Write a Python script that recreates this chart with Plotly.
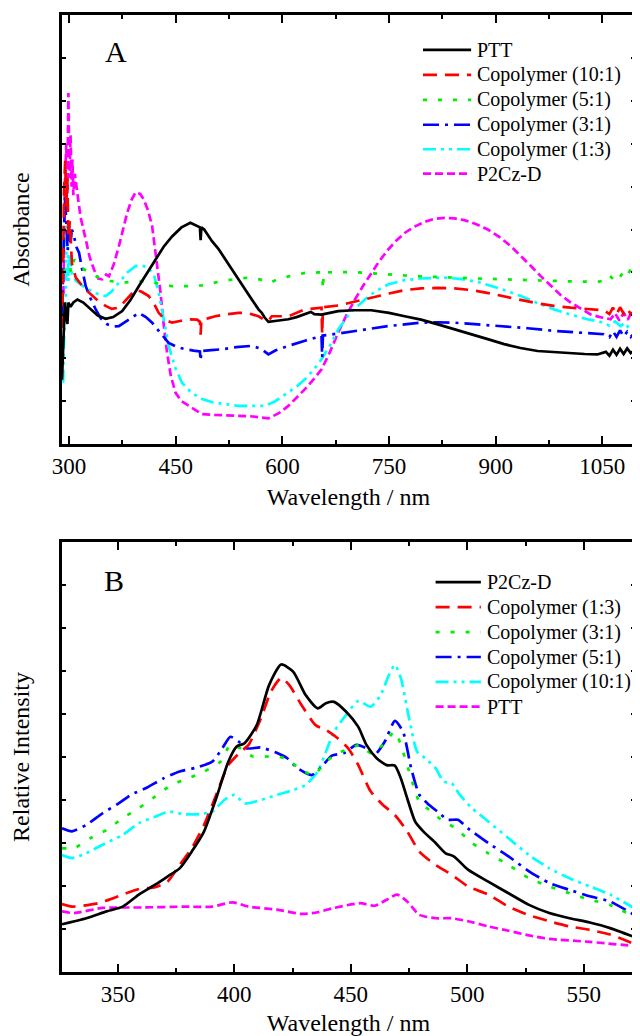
import plotly.graph_objects as go

FONT = "Liberation Serif"

# ---------------- Panel A : absorbance (arbitrary units, 0-100) ----------------
a_ptt_wl = [290, 292, 294, 296, 297.6, 299, 302, 306, 311.7, 320, 328, 340, 351.4, 362, 374.7, 386, 398, 410,
            421.5, 433, 444.8, 458, 470.6, 478, 484, 485, 486, 490, 501, 510, 519.7, 530, 538.3, 548, 557, 566.4,
            571, 575, 580.4, 595, 608.4, 620, 631.8, 640, 645, 655, 678.5, 700, 725, 750, 772, 795, 818.7, 842,
            865.4, 890, 912, 935, 959, 982, 1005.6, 1025, 1043, 1055, 1060, 1065, 1070, 1075, 1080, 1085, 1090, 1096]
a_ptt_abs = [15, 25, 33, 30, 28, 33, 32, 33, 33.7, 33, 31.8, 30, 29.2, 29.6, 31, 33.5, 36.8, 40,
             43, 46, 48.4, 50.5, 51.6, 51, 50.5, 47.5, 50.5, 50, 47.3, 45.5, 43, 40.5, 38.4, 36, 33.7, 31.4,
             30.6, 29.5, 28.5, 28.8, 29.1, 29.6, 30.2, 30.8, 30.3, 30.2, 31, 31.2, 31.2, 30.6, 29.8, 29, 27.9, 26.8,
             25.6, 24.4, 23.3, 22.4, 21.7, 21.4, 21.2, 21, 20.9, 21.5, 20.6, 22, 20.8, 22.2, 21, 22.3, 21.2, 22]

a_c101_wl = [290, 291.5, 293, 294.5, 296, 297.5, 299, 301, 304, 309.4, 318, 328, 340, 351.4, 360, 370, 382, 393.5,
             402, 412, 420, 426, 435, 444.8, 456, 468, 480, 484, 485, 486, 495, 505.6, 520, 538.3, 552, 566.4, 575,
             580.4, 585, 608.4, 631.8, 650, 655, 656, 657, 678.5, 700, 725, 750, 772, 795, 818.7, 842, 865.4, 890,
             912, 935, 959, 982, 1005.6, 1030, 1052, 1060, 1065, 1070, 1075, 1080, 1085, 1090, 1096]
a_c101_abs = [22, 45, 60, 66, 55, 62, 48, 52, 42, 38.8, 37, 35.3, 33.5, 32.2, 31.5, 31.8, 34, 36,
              35.5, 34.5, 32.5, 30.6, 29, 28.3, 28.7, 29.1, 29, 28.5, 25.5, 29, 29.3, 29.8, 30.2, 30.6, 30.5, 29.8, 28.9,
              28.7, 29.8, 29.8, 31.4, 31.8, 31.8, 25.6, 31.9, 32.3, 33.2, 34.1, 35.1, 35.9, 36.3, 36.4, 36.3, 35.9, 35.2,
              34.5, 33.6, 32.8, 32.2, 31.8, 31.5, 31.2, 30.3, 31.8, 30.2, 31.9, 30.4, 31.6, 30.3, 31]

a_c51_wl = [291, 295, 300, 303, 307, 312, 318.6, 330, 342, 358, 374.7, 386, 398, 410, 421.5, 433, 444.8, 465, 487,
            500, 515, 535, 552, 568, 582.8, 595, 610, 631.8, 650, 656, 657, 658, 680, 702, 725, 748.6, 772, 795, 818,
            842, 875, 912, 945, 982, 1010, 1043, 1055, 1060, 1065, 1070, 1075, 1080, 1085, 1090, 1096]
a_c51_abs = [40, 41, 42, 40, 43, 42, 41, 39.8, 38.8, 38, 37.6, 37.8, 38, 37.9, 37.6, 37.2, 36.8, 36.8, 37,
             37.5, 38, 38.5, 38.8, 38.4, 37.6, 38.6, 39.2, 39.9, 40, 40, 36, 40, 40.1, 40.1, 39.8, 39.5, 39.3, 39.1, 39,
             38.8, 38.6, 38.4, 38.2, 38, 37.9, 37.8, 38.2, 39.3, 38.5, 39.7, 39, 40.2, 39.2, 40.8, 39.8]

a_c31_wl = [290, 292, 294, 296, 298, 300, 302, 304, 307, 310, 314, 318, 323.4, 330, 337.4, 345, 353.7, 362, 370, 384,
            398, 408, 416.8, 428, 440, 452, 463.6, 475, 484, 485, 486, 500, 515, 535, 557, 570, 577, 580.4, 590, 608.4,
            631.8, 650, 655, 656, 657, 680, 702, 725, 748.6, 772, 795, 818, 842, 875, 912, 945, 982, 1015, 1052,
            1060, 1065, 1070, 1075, 1080, 1085, 1090, 1096]
a_c31_abs = [30, 48, 58, 52, 45, 50.8, 47, 50, 48.4, 46, 44.6, 41, 36.8, 34, 31.4, 29.2, 27.9, 27.4, 27.5, 29,
             30.6, 29.6, 28.3, 26, 23.6, 22.6, 22.1, 21.8, 21.6, 19.5, 21.7, 21.9, 22.1, 22.6, 22.9, 22.2, 21.2, 20.9, 21.8, 22.9,
             24.1, 25, 25.2, 20.2, 25.3, 25.8, 26.4, 27, 27.5, 27.9, 28.3, 28.4, 28.3, 27.9, 27.5, 27, 26.4, 26, 25.6,
             24.9, 26.3, 25, 26.5, 25.1, 26.2, 25, 26]

a_c13_wl = [291.6, 293, 295, 297, 299, 301, 304.6, 310, 318, 328, 340, 351.4, 360, 370, 382, 393.5, 402, 412, 420,
            426, 433, 440, 450, 458.9, 472, 487, 503, 519.7, 538.3, 557, 575.8, 590, 608.4, 620, 631.8, 645, 655, 667,
            678.5, 695, 716, 730, 748.6, 772, 795, 828, 850, 875, 905, 935.5, 960, 982, 1005, 1029, 1050, 1060, 1068,
            1075.7, 1082, 1088, 1096]
a_c13_abs = [14.3, 25, 31.4, 52, 38, 44, 39.1, 38, 37, 36, 35, 34.5, 35.6, 37.6, 40, 41.5, 41.6, 41.1, 39,
             35.3, 29, 22.9, 17.5, 14.3, 12, 10.5, 9.7, 9.3, 8.9, 8.9, 8.9, 10, 12, 13.4, 15.1, 17.5, 19.8, 23,
             26.7, 30.5, 33.7, 35.5, 37.2, 38.2, 38.6, 38.8, 38.5, 37.8, 36.3, 34.5, 32.8, 31.4, 30.2, 29.1, 28.4, 27.6, 28.6,
             27.5, 28.3, 26.8, 27.5]

a_p2cz_wl = [292, 294, 296, 297.5, 299, 300.5, 302, 303.5, 304.6, 306, 308, 311.7, 316, 323.4, 329, 335, 341, 346.7,
             352, 356, 363, 370, 376, 381.7, 388, 393.5, 400, 405, 411, 416.8, 422, 428.6, 433, 437.8, 443, 449.6, 458,
             468.2, 478, 487, 505, 529, 555, 580.4, 595, 608.4, 620, 631.8, 645, 655, 667, 678.5, 690, 702, 714, 725,
             737, 748.6, 760, 772, 786, 800, 814, 828, 842, 856, 872, 889, 905, 921.5, 935, 949.6, 963, 977.6, 991,
             1005.6, 1020, 1033.6, 1047, 1061.7, 1068, 1074, 1080, 1086, 1091, 1096]
a_p2cz_abs = [35, 60, 70, 58, 81.8, 62, 72, 60, 66.3, 58, 63, 58.5, 53, 47.7, 43.5, 40.7, 38.6, 38.4,
              39.5, 39.1, 42, 46.1, 50, 53.9, 57, 58.7, 58.3, 57, 54.5, 50.8, 44, 35.3, 28, 21.3, 16, 12, 10,
              8.9, 7.8, 7, 6.8, 6.7, 6.5, 6.0, 7.2, 8.9, 10.8, 12.8, 15.3, 17.4, 21.5, 26, 30, 33.7, 37, 39.9,
              42.8, 45.3, 47.4, 49.2, 50.7, 51.8, 52.5, 52.7, 52.6, 52.2, 51.3, 50, 48.3, 46.1, 44, 41.5, 39.2, 36.8, 34.8,
              33, 31.5, 30.2, 29.6, 29.1, 30.5, 28.8, 30.6, 29, 30.8, 29.5]

# ---------------- Panel B : photoluminescence (relative intensity, 0-100) ----------------
b_p2cz_wl = [326, 336.4, 345.1, 352.1, 359, 366, 371.3, 376.5, 381.7, 387, 392.2, 397.4, 400.9, 404.4, 409.6, 414.9,
             420.1, 425.3, 430.6, 435.8, 439.3, 442.8, 448, 453.2, 456.7, 461.1, 465.4, 468.9, 471.5, 474.2, 477.6,
             481.1, 486.4, 490.7, 494.2, 500.3, 509, 517.7, 526.5, 535.2, 543.9, 552.6, 561.3, 572.8]
b_p2cz_int = [11.1, 12.5, 14.1, 15.2, 18, 20.3, 22.2, 24.1, 28, 32.7, 40.4, 48.9, 52.4, 53.2, 57.4, 66.7,
              71.5, 69.8, 64.4, 61.3, 62.5, 62.8, 60.5, 57, 52.8, 49.7, 48.1, 48, 45, 40.4, 35,
              32.7, 30, 27.6, 26.9, 23.8, 21, 18.3, 15.6, 13.7, 12.5, 11.5, 10.2, 7.9]

b_c13_wl = [326, 330.3, 341.6, 352.1, 359, 366, 371.3, 376.5, 381.7, 387, 392.2, 397.4, 402.7, 406.1, 411.4, 415.7,
            420.1, 423.6, 428.8, 434.9, 439.3, 444.5, 448.9, 453.2, 458.5, 463.7, 468.9, 474.2, 479.4, 486.4, 493.3,
            500.3, 509, 517.7, 526.5, 535.2, 543.9, 552.6, 561.3, 572.8]
b_c13_int = [15.8, 15.2, 16, 18, 19.3, 19.7, 21, 24.9, 28.8, 34.2, 41.2, 48.1, 51.2, 52.8, 59, 65.2,
             68.4, 66.7, 62.1, 57.4, 56.3, 54.3, 52, 48.1, 42, 38.9, 36.5, 32.7, 28, 24.9, 22.6,
             19.9, 18, 15.2, 13.2, 11.8, 10.6, 9.8, 8.7, 6.3]

b_c31_wl = [326, 331.2, 338.1, 345.1, 352.1, 359, 366, 373, 380, 387, 394, 398.3, 402.7, 407.9, 414.9, 421.8, 428.8,
            434, 439.3, 444.5, 449.7, 454.1, 458.5, 463.7, 468.9, 472.4, 475.9, 479.4, 484.6, 489.8, 495.1, 502,
            509, 517.7, 526.5, 535.2, 543.9, 552.6, 561.3, 572.8]
b_c31_int = [28.8, 28.8, 31.1, 33, 35.8, 38.1, 40.8, 43.5, 45, 46.6, 48.9, 52.8, 52, 50.1, 50.1, 49.7, 47,
             45.8, 48.9, 50.9, 52, 52.8, 50.9, 52.8, 55.9, 51.2, 45, 39.6, 37.3, 35, 33.4, 30,
             27.6, 24.9, 21.8, 19.9, 18.3, 16.8, 15.6, 12.5]

b_c51_wl = [326, 330.3, 336.4, 343.4, 350.3, 355.6, 362.6, 369.5, 376.5, 383.5, 390.5, 394.8, 398.3, 401.8, 405.3,
            411.4, 418.4, 422.7, 427.1, 433.2, 437.5, 441.9, 447.1, 452.4, 456.7, 460.2, 464.6, 468.9, 472.4, 475.9,
            479.4, 482.9, 487.2, 491.6, 496, 500.3, 509, 517.7, 526.5, 535.2, 543.9, 552.6, 561.3, 572.8]
b_c51_int = [33.4, 32.7, 34.2, 36.9, 39.2, 41.2, 42.9, 45, 46.6, 47.5, 48.9, 52, 54.7, 53.6, 52,
             52.2, 50.9, 49.7, 47.4, 45.8, 47.8, 50.3, 50.9, 52.8, 52, 50.5, 53.6, 58.4, 55.9, 47.4,
             41.2, 39.2, 37.3, 35.4, 35.4, 33.4, 30, 26.9, 23.4, 20.7, 19.1, 17.6, 16.4, 12.9]

b_c101_wl = [326, 330.3, 336.4, 343.4, 352.1, 359, 366, 372.1, 378.2, 385.2, 390.5, 395.7, 400, 404.4, 411.4, 418.4,
             425.3, 430.6, 435.8, 439.3, 442.8, 448, 453.2, 458.5, 462.8, 466.3, 468.9, 471.5, 475, 478.5, 482,
             486.4, 489.8, 493.3, 496.8, 502, 509, 517.7, 526.5, 535.2, 543.9, 552.6, 561.3, 572.8]
b_c101_int = [27.2, 26.5, 27.6, 29.6, 31.9, 34.6, 36.1, 37.3, 36.7, 36.7, 37.3, 40, 41.2, 39.2, 40, 41.2,
              42.3, 43.5, 46.6, 51.2, 55.9, 59.8, 63, 61.7, 64.4, 69, 71.4, 68.3, 59, 51.2, 49.7,
              47.4, 44.3, 43.9, 41.2, 38.1, 35, 31.1, 27.2, 24.1, 21.8, 19.9, 18, 14.5]

b_ptt_wl = [326, 331.2, 343.4, 360.8, 378.2, 390.5, 399.2, 406.1, 418.4, 428.8, 435.8, 442.8, 454.1, 460.2, 465.4,
            469.8, 474.2, 479.4, 486.4, 493.3, 500.3, 509, 517.7, 526.5, 535.2, 552.6, 572.8]
b_ptt_int = [14.1, 13.7, 14.9, 15, 15.2, 15.2, 16.2, 15.2, 14.5, 13.5, 13.9, 14.9, 16, 15.4, 16.8,
             18, 16.4, 13.3, 12.5, 12.5, 11.8, 10.6, 9.6, 8.5, 7.7, 7, 6]

# ---------------- styles ----------------
STY = {
    "solid": dict(color="black", dash="solid"),
    "red": dict(color="#ff0000", dash="14px,8px"),
    "green": dict(color="#00ee00", dash="4px,11px"),
    "blue": dict(color="#0000ff", dash="16px,6px,3px,6px"),
    "cyan": dict(color="#00ffff", dash="13px,5px,3px,5px,3px,5px"),
    "magenta": dict(color="#ff00ff", dash="8px,4px"),
}
LW = 2.7

panel_a = [
    ("PTT", a_ptt_wl, a_ptt_abs, "solid"),
    ("Copolymer (10:1)", a_c101_wl, a_c101_abs, "red"),
    ("Copolymer (5:1)", a_c51_wl, a_c51_abs, "green"),
    ("Copolymer (3:1)", a_c31_wl, a_c31_abs, "blue"),
    ("Copolymer (1:3)", a_c13_wl, a_c13_abs, "cyan"),
    ("P2Cz-D", a_p2cz_wl, a_p2cz_abs, "magenta"),
]
panel_b = [
    ("P2Cz-D", b_p2cz_wl, b_p2cz_int, "solid"),
    ("Copolymer (1:3)", b_c13_wl, b_c13_int, "red"),
    ("Copolymer (3:1)", b_c31_wl, b_c31_int, "green"),
    ("Copolymer (5:1)", b_c51_wl, b_c51_int, "blue"),
    ("Copolymer (10:1)", b_c101_wl, b_c101_int, "cyan"),
    ("PTT", b_ptt_wl, b_ptt_int, "magenta"),
]

fig = go.Figure()
for name, x, y, s in reversed(panel_a):
    fig.add_trace(go.Scatter(x=x, y=y, name=name, mode="lines", xaxis="x", yaxis="y", showlegend=False,
                             line=dict(width=LW, **STY[s])))
for name, x, y, s in reversed(panel_b):
    fig.add_trace(go.Scatter(x=x, y=y, name=name, mode="lines", xaxis="x2", yaxis="y2", showlegend=False,
                             line=dict(width=LW, shape="spline", smoothing=0.6, **STY[s])))

shapes, annos = [], []
def legend(entries, xr, yr, x0, x1, xt, ys):
    for (name, _, _, s), yy in zip(entries, ys):
        shapes.append(dict(type="line", xref=xr, yref=yr, x0=x0, x1=x1, y0=yy, y1=yy,
                           line=dict(width=LW, **STY[s])))
        annos.append(dict(text=name, xref=xr, yref=yr, x=xt, y=yy, xanchor="left", yanchor="middle",
                          showarrow=False, font=dict(family=FONT, size=20, color="black")))

legend(panel_a, "x domain", "y domain", 0.630, 0.714, 0.720,
       [0.9186, 0.8605, 0.8023, 0.7442, 0.6872, 0.6302])
legend(panel_b, "x2 domain", "y2 domain", 0.652, 0.731, 0.739,
       [0.9065, 0.8485, 0.7905, 0.7324, 0.6744, 0.6172])
annos.append(dict(text="A", xref="x domain", yref="y domain", x=0.094, y=0.915, showarrow=False,
                  xanchor="center", yanchor="middle", font=dict(family=FONT, size=30, color="black")))
annos.append(dict(text="B", xref="x2 domain", yref="y2 domain", x=0.091, y=0.910, showarrow=False,
                  xanchor="center", yanchor="middle", font=dict(family=FONT, size=30, color="black")))

tickfont = dict(family=FONT, size=23, color="black")
titlefont = dict(family=FONT, size=24, color="black")
xcommon = dict(showline=True, linewidth=2.5, linecolor="black", mirror="ticks", ticks="inside",
               ticklen=8, tickwidth=2, tickcolor="black", showgrid=False, zeroline=False,
               tickfont=tickfont)
ycommon = dict(showline=True, linewidth=2.5, linecolor="black", mirror="ticks", ticks="inside",
               ticklen=4, tickwidth=1.5, tickcolor="black", showgrid=False, zeroline=False,
               showticklabels=False, range=[0, 100], dtick=10)

# page body has an 8px margin: figure is offset by (8, 8) in the window
fig.update_layout(
    width=632, height=1028,
    margin=dict(l=54, r=2, t=7, b=62),
    paper_bgcolor="white", plot_bgcolor="white",
    font=dict(family=FONT, color="black"),
    xaxis=dict(domain=[0, 1], anchor="y", range=[290, 1096], tick0=300, dtick=150,
               minor=dict(dtick=75, ticks="inside", ticklen=4, tickwidth=2, tickcolor="black"),
               title=dict(text="Wavelength / nm", font=titlefont, standoff=10), **xcommon),
    yaxis=dict(domain=[0.5516, 1], anchor="x", title=dict(text="Absorbance", font=titlefont, standoff=26),
               **ycommon),
    xaxis2=dict(domain=[0, 1], anchor="y2", range=[326, 572], tick0=350, dtick=50,
                minor=dict(dtick=25, ticks="inside", ticklen=4, tickwidth=2, tickcolor="black"),
                title=dict(text="Wavelength / nm", font=titlefont, standoff=10), **xcommon),
    yaxis2=dict(domain=[0, 0.4494], anchor="x2", title=dict(text="Relative Intensity", font=titlefont, standoff=26),
                **ycommon),
    shapes=shapes, annotations=annos,
)

fig.write_html("out.html")
